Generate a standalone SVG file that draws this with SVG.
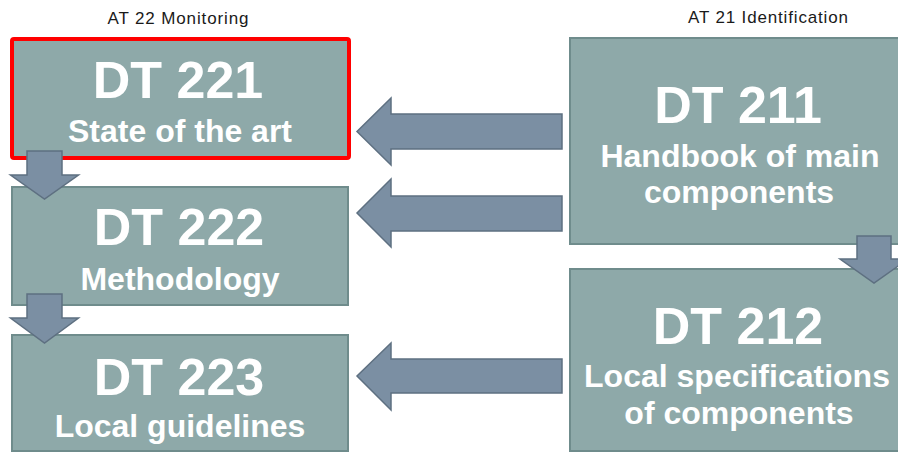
<svg xmlns="http://www.w3.org/2000/svg" width="898" height="452" viewBox="0 0 898 452">
<style>
.box{fill:#8EA9A9;stroke:#6F8C8C;stroke-width:2}
.sel{fill:#8EA9A9;stroke:#FF0000;stroke-width:4}
.arr{fill:#7B8FA3;stroke:#5E7081;stroke-width:1.5;stroke-linejoin:miter}
.hdr{font-family:"Liberation Sans",Arial,sans-serif;font-size:17px;fill:#1a1a1a;text-anchor:middle}
.big{font-family:"Liberation Sans",Arial,sans-serif;font-size:52px;font-weight:bold;fill:#ffffff;text-anchor:middle}
.sub{font-family:"Liberation Sans",Arial,sans-serif;font-size:32px;font-weight:bold;fill:#ffffff;text-anchor:middle}
</style>
<rect width="898" height="452" fill="#ffffff"/>
<text class="hdr" x="178" y="24" textLength="141">AT 22 Monitoring</text>
<text class="hdr" x="768" y="23" textLength="160">AT 21 Identification</text>
<g id="dt221">
<rect class="sel" x="12" y="39" width="337" height="119" rx="2"/>
<text class="big" x="178" y="98">DT 221</text>
<text class="sub" x="180" y="142">State of the art</text>
</g>
<g id="dt222">
<rect class="box" x="12" y="187" width="336" height="118"/>
<text class="big" x="179" y="245">DT 222</text>
<text class="sub" x="180" y="290">Methodology</text>
</g>
<g id="dt223">
<rect class="box" x="12" y="335" width="336" height="116"/>
<text class="big" x="179" y="395">DT 223</text>
<text class="sub" x="180" y="437">Local guidelines</text>
</g>
<g id="dt211">
<rect class="box" x="570" y="38" width="340" height="206"/>
<text class="big" x="738" y="123">DT 211</text>
<text class="sub" x="740" y="167">Handbook of main</text>
<text class="sub" x="739" y="203">components</text>
</g>
<g id="dt212">
<rect class="box" x="570" y="269" width="340" height="182"/>
<text class="big" x="738" y="344">DT 212</text>
<text class="sub" x="737" y="387">Local specifications</text>
<text class="sub" x="739" y="424">of components</text>
</g>
<g id="connectors">
<path class="arr" d="M562,114 L391,114 L391,98 L357,131.5 L391,165 L391,149 L562,149 Z"/>
<path class="arr" d="M562,196 L391,196 L391,179 L357,213 L391,247 L391,231 L562,231 Z"/>
<path class="arr" d="M562,359 L391,359 L391,343 L357,376 L391,410 L391,393 L562,393 Z"/>
<path class="arr" d="M27,151 L62,151 L62,175 L78.5,175 L44.5,199 L10.5,175 L27,175 Z"/>
<path class="arr" d="M27,294 L62,294 L62,318 L78.5,318 L44.5,343 L10.5,318 L27,318 Z"/>
<path class="arr" d="M857,236 L891,236 L891,259 L908,259 L874,283 L840,259 L857,259 Z"/>
</g>
</svg>
